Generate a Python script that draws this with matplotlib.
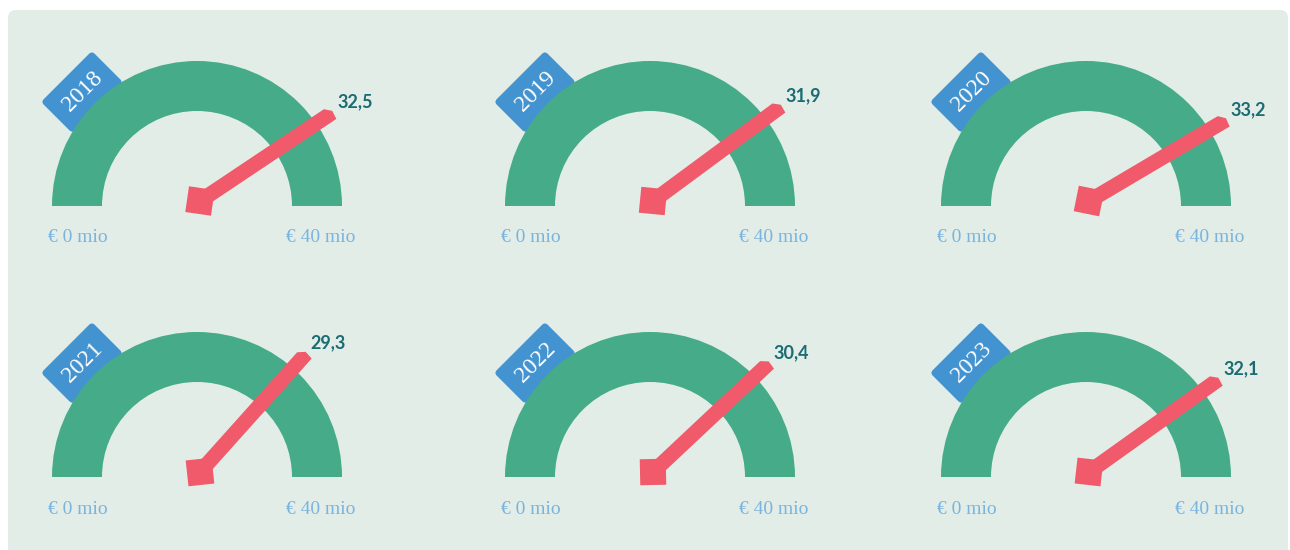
import numpy as np
import matplotlib.pyplot as plt
from matplotlib.patches import Wedge, Polygon, FancyBboxPatch
from matplotlib.transforms import Affine2D

# Data
years = ["2018", "2019", "2020", "2021", "2022", "2023"]
values = [32.5, 31.9, 33.2, 29.3, 30.4, 32.1]
labels = ["32,5", "31,9", "33,2", "29,3", "30,4", "32,1"]
vmin, vmax = 0, 40
min_label = "€ 0 mio"
max_label = "€ 40 mio"

# Colours
bg = "#e2ede7"
green = "#45ab88"
red = "#f05a6b"
blue = "#4393d1"
teal = "#1b6b73"
light_blue = "#7ab4de"

W, H = 1290, 550
fig = plt.figure(figsize=(W / 100, H / 100), dpi=100)
ax = fig.add_axes([0, 0, 1, 1])
ax.set_xlim(0, W)
ax.set_ylim(0, H)
ax.axis("off")

# Panel background
ax.add_patch(FancyBboxPatch((8, -20), W - 10, H - 10 + 20,
                            boxstyle="round,pad=0,rounding_size=8",
                            fc=bg, ec="none"))

col_x = [197, 650, 1086]
row_y = [344, 73]
r_out, r_in = 145, 95

for i, (year, val, lab) in enumerate(zip(years, values, labels)):
    cx = col_x[i % 3]
    cy = row_y[i // 3]

    # Year tag (behind the arc)
    tx, ty = cx - 115, cy + 114
    rot = Affine2D().rotate_deg_around(tx, ty, 45) + ax.transData
    tag = FancyBboxPatch((tx - 36, ty - 22), 72, 44,
                         boxstyle="round,pad=0,rounding_size=4",
                         fc=blue, ec="none", transform=rot, zorder=1)
    ax.add_patch(tag)
    ax.text(tx + 1, ty + 1, year, rotation=45, ha="center", va="center",
            color="white", fontsize=17, family="Liberation Serif",
            rotation_mode="anchor", zorder=2)

    # Gauge arc
    ax.add_patch(Wedge((cx, cy), r_out, 0, 180, width=r_out - r_in,
                       fc=green, ec="none", zorder=3))

    # Needle
    ang = np.pi * (1 - (val - vmin) / (vmax - vmin))
    px, py = cx + 3, cy + 5
    L, w = 160, 7.5
    d = np.array([np.cos(ang), np.sin(ang)])
    n = np.array([-d[1], d[0]])
    p0 = np.array([px, py])
    pts = [p0 + n * w, p0 + d * (L - 6) + n * w, p0 + d * L + n * 1.5,
           p0 + d * (L - 1) - n * w, p0 - n * w]
    ax.add_patch(Polygon(pts, closed=True, fc=red, ec="none", zorder=4))

    # Pivot square
    s = 13
    sq = np.array([[-s, -s], [s, -s], [s, s], [-s, s]], dtype=float)
    t = np.radians(np.degrees(ang) - 42)
    R = np.array([[np.cos(t), -np.sin(t)], [np.sin(t), np.cos(t)]])
    sq = sq @ R.T + p0
    ax.add_patch(Polygon(sq, closed=True, fc=red, ec="none", zorder=5))

    # Value label
    tip = p0 + d * L
    ax.text(tip[0] + 4, tip[1] + 10, lab, ha="left", va="center",
            color=teal, fontsize=13, fontweight="bold", family="Lato",
            zorder=6)

    # Scale labels
    ax.text(cx - 149, cy - 32, min_label, ha="left", va="center",
            color=light_blue, fontsize=14, family="Liberation Serif")
    ax.text(cx + 158, cy - 32, max_label, ha="right", va="center",
            color=light_blue, fontsize=14, family="Liberation Serif")

fig.savefig("out.png", dpi=100, facecolor="white")
